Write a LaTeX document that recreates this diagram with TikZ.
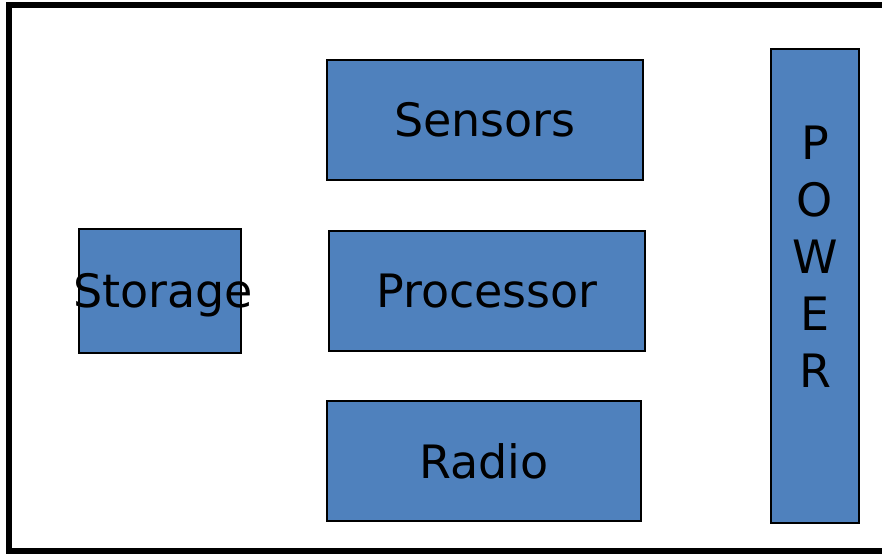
\documentclass[tikz,border=0pt]{standalone}
\usepackage{fontspec}
\setmainfont{DejaVu Sans}
\usetikzlibrary{positioning}
\definecolor{boxblue}{HTML}{4F81BD}

\begin{document}
\begin{tikzpicture}[x=0.5pt,y=-0.5pt]
		\tikzstyle{unit} = [rectangle, draw, line width=1pt, fill=boxblue, inner sep=0pt, font=\fontsize{23}{28.5}\selectfont]
		\tikzstyle{word} = [draw=none, align=center, font=\fontsize{23}{28.5}\selectfont]
		\useasboundingbox (0,0) rectangle (882,554);
		% outer frame, runs off to the right
		\draw[line width=3pt] (9,5) rectangle (892,551);

		\node [unit, minimum width=158pt, minimum height=60pt] (sensors) at (485,120) {Sensors};
		\node [unit, minimum width=158pt, minimum height=60pt] (processor) at (487,291) {Processor};
		\node [unit, minimum width=157pt, minimum height=60pt] (radio) at (484,461) {Radio};
		\node [unit, minimum width=81pt, minimum height=62pt] (storage) at (160,291) {};
		\node [word] (storagetext) at (163,295) {Storage};
		\node [unit, minimum width=44pt, minimum height=237pt] (power) at (815,286) {};
		\node [word] (powertext) at ([yshift=14.5pt]power.center) {P\\O\\W\\E\\R};
	\end{tikzpicture}
\end{document}
